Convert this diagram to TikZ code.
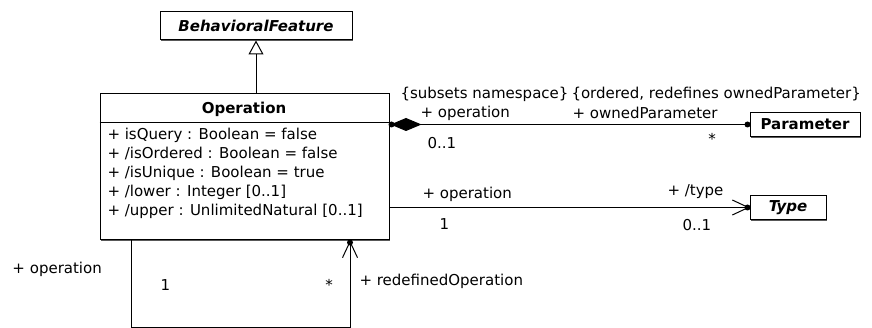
\documentclass[tikz,border=0pt]{standalone}
\usepackage{fontspec}
\setmainfont{DejaVu Sans}
\usetikzlibrary{arrows.meta,shadows}
\begin{document}
\begin{tikzpicture}[x=1pt,y=-1pt, font=\fontsize{15}{18}\selectfont, line width=1pt,
  cls/.style={draw=black, fill=white, rectangle, inner sep=0pt,
    drop shadow={shadow xshift=1.2pt,shadow yshift=-1.2pt,fill=black!65,opacity=1}},
  lbl/.style={inner sep=0pt, anchor=west},
  ctr/.style={inner sep=0pt},
  dotn/.style={circle, fill=black, inner sep=0pt, minimum size=6pt},
  opentip/.style={-{Straight Barb[length=16pt,width=15pt]}}]
\useasboundingbox (0,0) rectangle (872,328);

% classes
\node[cls, minimum width=192pt, minimum height=28pt, font=\fontsize{15}{18}\selectfont\bfseries\itshape] (bf) at (256,26) {BehavioralFeature};
\node[cls, minimum width=289pt, minimum height=146pt] (op) at (244.5,167) {};
\draw (op.west |- 0,123) -- (op.east |- 0,123);
\node[ctr, font=\fontsize{15}{18}\selectfont\bfseries] (opname) at (244,109) {Operation};
\node[lbl] (a1) at (107,135) {+ isQuery : Boolean = false};
\node[lbl] (a2) at (107,154) {+ /isOrdered : Boolean = false};
\node[lbl] (a3) at (107,173) {+ /isUnique : Boolean = true};
\node[lbl] (a4) at (107,192) {+ /lower : Integer [0..1]};
\node[lbl] (a5) at (107,211) {+ /upper : UnlimitedNatural [0..1]};
\node[cls, minimum width=110pt, minimum height=24pt, font=\fontsize{15}{18}\selectfont\bfseries] (par) at (805,124.5) {Parameter};
\node[cls, minimum width=76pt, minimum height=24pt, font=\fontsize{15}{18}\selectfont\bfseries\itshape] (ty) at (788,207.5) {Type};

% generalization
\draw[-{Triangle[open,length=14pt,width=15pt,fill=white]}] (bf.south |- op.north) -- (bf.south);

% composition Operation - Parameter
\draw[{Diamond[length=31pt,width=13pt]}-] ([xshift=1pt]op.east |- par.west) -- (par.west);
\node[dotn] (d1) at ([xshift=2pt]op.east |- par.west) {};
\node[dotn] (d2) at ([xshift=-2pt]par.west) {};

% association Operation - Type
\draw[opentip] (op.east |- ty.west) -- (ty.west);
\node[dotn] (d3) at ([xshift=-2pt]ty.west) {};

% self association
\coordinate (l1) at (131,327);
\coordinate (l2) at (350,327);
\draw[opentip] (op.south -| l1) -- (l1) -- (l2) -- (op.south -| l2);
\node[dotn] (d4) at ([yshift=-2pt]op.south -| l2) {};

% labels
\node[lbl] (t1) at (400,94) {\{subsets namespace\}};
\node[lbl] (t2) at (571,94) {\{ordered, redefines ownedParameter\}};
\node[lbl] (t3) at (420,113) {+ operation};
\node[lbl] (t4) at (572,113) {+ ownedParameter};
\node[lbl] (t5) at (427,143) {0..1};
\node[ctr] (t6) at (712,139) {*};
\node[lbl] (t7) at (422,194) {+ operation};
\node[lbl] (t8) at (667,192) {+ /type};
\node[lbl] (t9) at (439,224) {1};
\node[lbl] (t10) at (682,225) {0..1};
\node[lbl] (t11) at (12,269) {+ operation};
\node[lbl] (t12) at (160,285) {1};
\node[ctr] (t13) at (329,285) {*};
\node[lbl] (t14) at (359,281) {+ redefinedOperation};
\end{tikzpicture}
\end{document}
